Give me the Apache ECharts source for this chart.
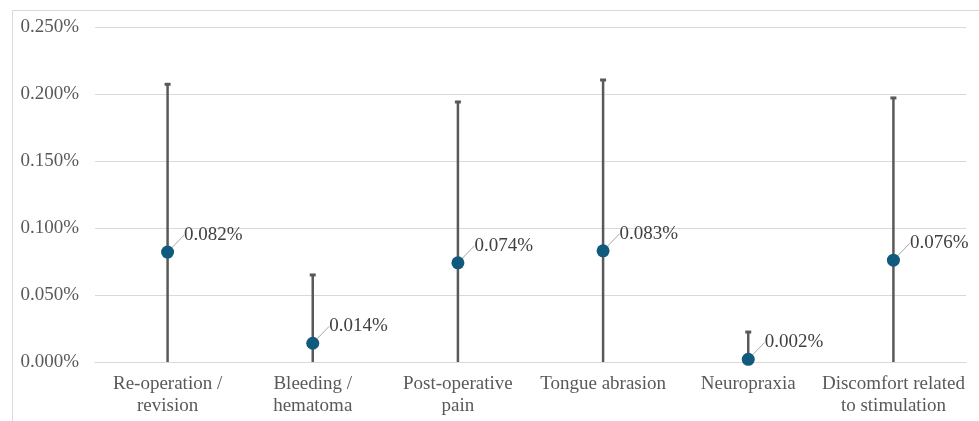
<!DOCTYPE html>
<html>
<head>
<meta charset="utf-8">
<script src="https://cdn.jsdelivr.net/npm/echarts@6/dist/echarts.min.js"></script>
<style>
  html, body { margin: 0; padding: 0; background: #fff; }
  #main { width: 979px; height: 421px; }
</style>
</head>
<body>
<div id="main"></div>
<script>
// categories and values (percent)
var categories = ['Re-operation /\nrevision', 'Bleeding /\nhematoma', 'Post-operative\npain',
                  'Tongue abrasion', 'Neuropraxia', 'Discomfort related\nto stimulation'];
var rates = [0.082, 0.014, 0.074, 0.083, 0.002, 0.076];
var lower = [0, 0, 0, 0, 0, 0];
var upper = [0.208, 0.0657, 0.1948, 0.2112, 0.0231, 0.1978];
var yTicks = [0, 0.05, 0.1, 0.15, 0.2, 0.25];

var serif = '"Liberation Serif", "DejaVu Serif", serif';

var errData = [];
for (var i = 0; i < categories.length; i++) {
    errData.push([i, lower[i], upper[i]]);
}

var myChart = echarts.init(document.getElementById('main'));

var option = {
    animation: false,
    graphic: [{
        type: 'rect',
        shape: { x: 12.5, y: 10.5, width: 1000, height: 600 },
        style: { fill: 'none', stroke: '#d9d9d9', lineWidth: 1 },
        silent: true
    }],
    grid: { left: 95, right: 13, top: 27, bottom: 59 },
    xAxis: {
        type: 'category',
        data: categories,
        axisLine: { lineStyle: { color: '#d9d9d9' } },
        axisTick: { show: false },
        axisLabel: {
            interval: 0,
            margin: 11,
            fontFamily: serif,
            fontSize: 19,
            lineHeight: 22,
            color: '#595959'
        }
    },
    yAxis: {
        type: 'value',
        min: yTicks[0],
        max: yTicks[yTicks.length - 1],
        interval: 0.05,
        axisLine: { show: false },
        axisTick: { show: false },
        splitLine: { lineStyle: { color: '#d9d9d9' } },
        axisLabel: {
            margin: 16,
            fontFamily: serif,
            fontSize: 19,
            color: '#595959',
            formatter: function (v) { return v.toFixed(3) + '%'; }
        }
    },
    series: [
        {
            type: 'custom',
            data: errData,
            z: 2,
            renderItem: function (params, api) {
                var x = api.value(0);
                var lo = api.coord([x, api.value(1)]);
                var hi = api.coord([x, api.value(2)]);
                var style = { stroke: '#595959', lineWidth: 2.5 };
                return {
                    type: 'group',
                    children: [
                        { type: 'line', shape: { x1: lo[0], y1: lo[1], x2: hi[0], y2: hi[1] }, style: style },
                        { type: 'line', shape: { x1: hi[0] - 3, y1: hi[1] + 1, x2: hi[0] + 3, y2: hi[1] + 1 },
                          style: { stroke: '#595959', lineWidth: 3 } }
                    ]
                };
            }
        },
        {
            type: 'scatter',
            data: rates,
            z: 3,
            symbol: 'circle',
            symbolSize: 13,
            itemStyle: { color: '#0f5a7d', opacity: 1 },
            label: {
                show: true,
                position: 'right',
                fontFamily: serif,
                fontSize: 19,
                color: '#404040',
                formatter: function (p) { return p.value.toFixed(3) + '%'; }
            },
            labelLayout: { dx: 5, dy: -17 },
            labelLine: {
                show: true,
                lineStyle: { color: '#a6a6a6', width: 1 }
            }
        }
    ]
};

myChart.setOption(option);
</script>
</body>
</html>
